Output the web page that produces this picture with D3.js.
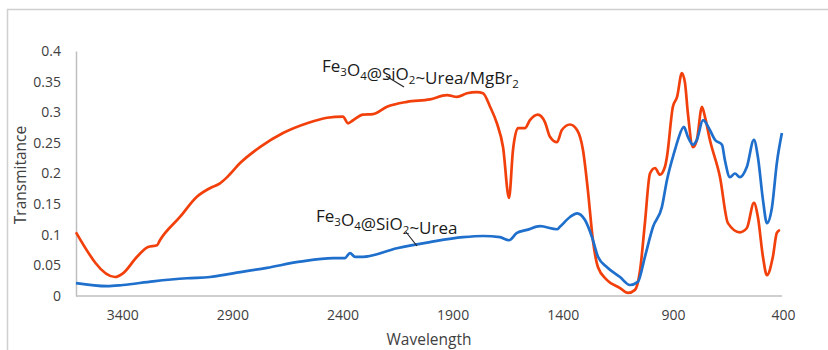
<!DOCTYPE html>
<html>
<head>
<meta charset="utf-8">
<script src="https://cdn.jsdelivr.net/npm/d3@7"></script>
<style>
  body { margin: 0; background: #fff; }
  svg text { font-family: "Open Sans", sans-serif; fill: #404040; }
</style>
</head>
<body>
<div id="chart"></div>
<script>
// Data (wavenumber, transmittance)
var mgWave = [3610, 3433, 3397, 3333, 3283, 3242, 3229, 3138, 3061, 3002, 2956, 2924, 2865, 2775, 2670, 2561, 2470, 2398, 2375, 2352, 2307, 2262, 2198, 2107, 2003, 1926, 1880, 1835, 1790, 1762, 1730, 1699, 1671, 1644, 1626, 1603, 1572, 1549, 1513, 1481, 1458, 1426, 1404, 1367, 1335, 1308, 1286, 1263, 1240, 1199, 1140, 1104, 1072, 1049, 1027, 1004, 981, 959, 936, 927, 900, 881, 859, 845, 832, 809, 791, 768, 754, 732, 686, 650, 596, 564, 532, 514, 491, 473, 446, 428, 414]
var mgT = [0.104, 0.031, 0.037, 0.064, 0.080, 0.083, 0.091, 0.129, 0.162, 0.176, 0.184, 0.194, 0.217, 0.243, 0.266, 0.282, 0.291, 0.293, 0.282, 0.287, 0.296, 0.297, 0.309, 0.317, 0.321, 0.328, 0.325, 0.331, 0.333, 0.331, 0.309, 0.282, 0.243, 0.160, 0.238, 0.274, 0.274, 0.287, 0.296, 0.284, 0.260, 0.251, 0.271, 0.280, 0.271, 0.238, 0.173, 0.091, 0.047, 0.026, 0.013, 0.005, 0.010, 0.042, 0.119, 0.200, 0.209, 0.198, 0.211, 0.227, 0.309, 0.325, 0.364, 0.348, 0.299, 0.243, 0.255, 0.309, 0.292, 0.255, 0.194, 0.119, 0.104, 0.111, 0.152, 0.129, 0.064, 0.034, 0.064, 0.103, 0.108]

var ureaWave = [3610, 3469, 3397, 3260, 3106, 3002, 2897, 2743, 2593, 2443, 2389, 2366, 2343, 2307, 2153, 2003, 1853, 1762, 1685, 1644, 1608, 1562, 1503, 1426, 1413, 1367, 1335, 1299, 1267, 1240, 1199, 1140, 1095, 1059, 1027, 990, 950, 927, 891, 877, 850, 832, 809, 791, 763, 732, 709, 677, 664, 641, 618, 596, 564, 532, 514, 491, 473, 450, 428, 405]
var ureaT = [0.021, 0.016, 0.018, 0.024, 0.029, 0.031, 0.037, 0.046, 0.056, 0.062, 0.062, 0.070, 0.064, 0.064, 0.078, 0.088, 0.096, 0.098, 0.096, 0.091, 0.103, 0.108, 0.114, 0.109, 0.113, 0.129, 0.135, 0.124, 0.096, 0.064, 0.047, 0.031, 0.018, 0.023, 0.064, 0.113, 0.145, 0.189, 0.238, 0.255, 0.276, 0.260, 0.247, 0.255, 0.287, 0.271, 0.255, 0.247, 0.222, 0.194, 0.200, 0.194, 0.211, 0.255, 0.227, 0.157, 0.119, 0.145, 0.217, 0.266]

var xTicks = [3400, 2900, 2400, 1900, 1400, 900, 400]
var yTicks = [0, 0.05, 0.1, 0.15, 0.2, 0.25, 0.3, 0.35, 0.4]

var W = 828, H = 350
var margin = {top: 51, right: 45, bottom: 54, left: 76}
var width = W - margin.left - margin.right,
	height = H - margin.top - margin.bottom

var svg = d3.select("#chart")
	.append("svg")
		.attr("width", W)
		.attr("height", H)

// chart frame
svg.append("rect")
	.attr("x", 7.5).attr("y", 9.5)
	.attr("width", 840).attr("height", 360)
	.attr("fill", "none")
	.attr("stroke", "#d0d0d0")
	.attr("stroke-width", 1.5)

var g = svg.append("g")
	.attr("transform", "translate(" + margin.left + "," + margin.top + ")")

var xScale = d3.scaleLinear().domain([3610, 400]).range([0, width])
var yScale = d3.scaleLinear().domain([0, 0.4]).range([height, 0])

// axes
var xAxis = d3.axisBottom(xScale).tickValues(xTicks).tickSize(0).tickPadding(14).tickFormat(d3.format("d"))
var yAxis = d3.axisLeft(yScale).tickValues(yTicks).tickSize(0).tickPadding(15).tickFormat(d => d === 0 ? "0" : String(d))

var gx = g.append("g")
	.attr("transform", "translate(0," + height + ")")
	.call(xAxis)
var gy = g.append("g").call(yAxis)

gx.select(".domain").attr("stroke", "#bfbfbf").attr("stroke-width", 1.5).attr("d", "M0,0H" + xScale(404))
gy.select(".domain").attr("stroke", "#bfbfbf").attr("stroke-width", 1.5)
g.selectAll(".tick text").style("font-size", "14px").style("fill", "#404040").style("font-family", "Open Sans")

// axis titles
svg.append("text")
	.attr("x", 429).attr("y", 345)
	.style("text-anchor", "middle")
	.style("font-size", "15.5px")
	.text("Wavelength")
svg.append("text")
	.attr("transform", "translate(26,175) rotate(-90)")
	.style("text-anchor", "middle")
	.style("font-size", "15.5px")
	.text("Transmitance")

// lines
var line = d3.line()
	.x(d => xScale(d[0]))
	.y(d => yScale(d[1]))
	.curve(d3.curveMonotoneX)

var mgData = mgWave.map((w, i) => [w, mgT[i]])
var ureaData = ureaWave.map((w, i) => [w, ureaT[i]])

g.append("path")
	.datum(mgData)
	.attr("fill", "none")
	.attr("stroke", "#f2400c")
	.attr("stroke-width", 2.7)
	.attr("stroke-linejoin", "round")
	.attr("d", line)

g.append("path")
	.datum(ureaData)
	.attr("fill", "none")
	.attr("stroke", "#1f6fcc")
	.attr("stroke-width", 2.7)
	.attr("stroke-linejoin", "round")
	.attr("d", line)

// annotations with subscripts
function label(x, y, parts) {
	var t = svg.append("text")
		.attr("x", x).attr("y", y)
		.style("font-size", "17px")
		.style("fill", "#1a1a1a")
	parts.forEach(p => {
		if (p.sub) {
			t.append("tspan").attr("dy", 4).style("font-size", "11.5px").text(p.s)
			t.append("tspan").attr("dy", -4).text("")
		} else {
			t.append("tspan").text(p.s)
		}
	})
}
label(322, 72, [{s: "Fe"}, {s: "3", sub: 1}, {s: "O"}, {s: "4", sub: 1}, {s: "@SiO"}, {s: "2", sub: 1}, {s: "~Urea/MgBr"}, {s: "2", sub: 1}])
label(316, 222, [{s: "Fe"}, {s: "3", sub: 1}, {s: "O"}, {s: "4", sub: 1}, {s: "@SiO"}, {s: "2", sub: 1}, {s: "~Urea"}])

svg.append("line").attr("x1", 386).attr("y1", 76).attr("x2", 404).attr("y2", 87)
	.attr("stroke", "#262626").attr("stroke-width", 1.2)
svg.append("line").attr("x1", 406).attr("y1", 232).attr("x2", 417).attr("y2", 246)
	.attr("stroke", "#262626").attr("stroke-width", 1.2)
</script>
</body>
</html>
